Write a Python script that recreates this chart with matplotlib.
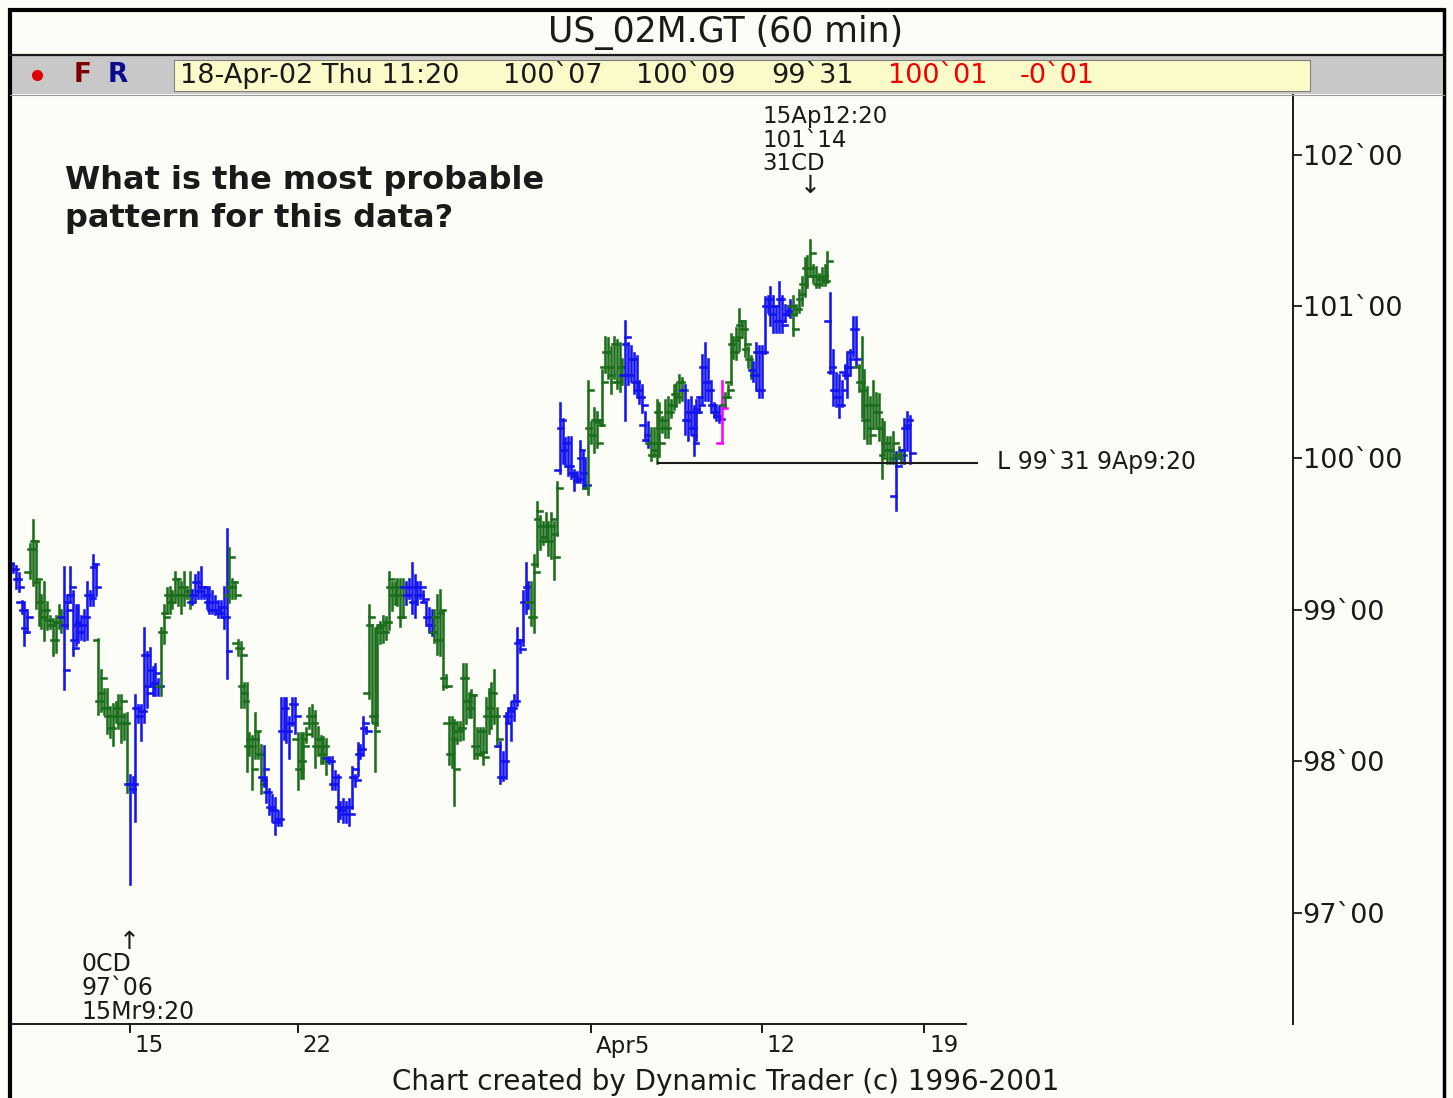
import matplotlib
matplotlib.use("Agg")
import matplotlib.pyplot as plt
import numpy as np
from matplotlib.collections import LineCollection
from matplotlib.lines import Line2D
from matplotlib.patches import Rectangle

# ---------------- data ----------------
TITLE = "US_02M.GT (60 min)"
STATUS_BLACK = ["18-Apr-02 Thu 11:20", "100`07", "100`09", "99`31"]
STATUS_RED = ["100`01", "-0`01"]
QUESTION = ["What is the most probable", "pattern for this data?"]
HIGH_NOTE = ["15Ap12:20", "101`14", "31CD"]
LOW_NOTE = ["0CD", "97`06", "15Mr9:20"]
LOW_LINE_LABEL = "L 99`31 9Ap9:20"
LOW_LINE_PRICE = 99 + 31 / 32
CREDIT = "Chart created by Dynamic Trader (c) 1996-2001"

PRICE_TICKS = [97, 98, 99, 100, 101, 102]
PRICE_LABELS = ["97`00", "98`00", "99`00", "100`00", "101`00", "102`00"]
DATE_LABELS = ["15", "22", "Apr5", "12", "19"]
DATE_BAR_INDEX = [41, 100, 203, 263, 320]

HIGH_BAR = 280      # 15Ap12:20 high
LOW_BAR = 41        # 15Mr9:20 low
LOW_LINE_BAR = 226  # 9Ap9:20 low

HIGH = [
    # Mar 12-15
    99.31, 99.29, 99.24, 99.06, 99.05, 99.00, 99.43, 99.59, 99.45, 99.18, 99.10,
    99.18, 99.05, 98.96, 98.94, 98.96, 99.03, 99.00, 99.28, 99.10, 99.28, 99.12,
    99.03, 99.03, 98.96, 99.00, 99.18, 99.12, 99.36, 99.30, 98.81, 98.60, 98.48,
    98.48, 98.36, 98.38, 98.39, 98.44, 98.44, 98.31, 98.32, 97.91, 97.90,
    98.44, 98.37, 98.37, 98.88, 98.72, 98.75, 98.62, 98.64, 98.54, 98.88,
    # Mar 15-22
    99.03, 99.14, 99.15, 99.12, 99.25, 99.20, 99.18, 99.25, 99.15, 99.25,
    99.13, 99.23, 99.25, 99.28, 99.15, 99.15, 99.15, 99.12, 99.09, 99.06,
    99.06, 99.15, 99.53, 99.41, 99.20, 99.18, 98.80, 98.79, 98.52, 98.52,
    98.19, 98.17, 98.32, 98.19, 98.11, 98.10, 97.90, 97.82, 97.78, 97.76,
    97.67, 98.42, 98.42, 98.42, 98.29, 98.42, 98.42, 98.19, 98.19, 98.19,
    98.22, 98.35, 98.37,
    # Mar 22-28
    98.33, 98.23, 98.17, 98.16, 98.15, 98.03, 98.03, 97.94, 97.91, 97.73,
    97.75, 97.73, 97.75, 97.96, 97.91, 98.12, 98.11, 98.29, 98.23, 99.03,
    98.90, 98.88, 98.90, 98.92, 98.96, 98.95, 99.25, 99.18, 99.18, 99.20,
    99.20, 99.20, 99.18, 99.20, 99.31, 99.23, 99.18, 99.18, 99.12, 99.05,
    99.01, 99.00, 99.00, 99.10, 99.13, 98.99, 98.57, 98.29, 98.29, 98.27,
    98.26, 98.26, 98.64, 98.64, 98.45, 98.47,
    # Mar 28 - Apr 5
    98.44, 98.22, 98.22, 98.22, 98.42, 98.48, 98.52, 98.60, 98.35, 98.13, 98.06,
    98.32, 98.35, 98.39, 98.44, 98.88, 98.79, 99.12, 99.31, 99.18, 99.18,
    99.36, 99.71, 99.62, 99.58, 99.64, 99.58, 99.64, 99.58, 99.84, 100.36, 100.26,
    100.13, 100.14, 100.14, 99.92, 99.91, 100.11, 100.04, 100.00, 100.51, 100.24,
    100.33, 100.30, 100.25, 100.58, 100.80, 100.79, 100.73,
    # Apr 5-12
    100.80, 100.78, 100.76, 100.65, 100.90, 100.76, 100.74, 100.69, 100.67,
    100.51, 100.48, 100.30, 100.24, 100.20, 100.20, 100.38, 100.36,
    100.27, 100.38, 100.40, 100.38, 100.48, 100.49, 100.55, 100.53, 100.48, 100.38,
    100.40, 100.34, 100.38, 100.40, 100.68, 100.76, 100.65, 100.51, 100.36, 100.35,
    100.34, 100.51, 100.43, 100.48, 100.82, 100.80, 100.86, 100.98,
    100.90, 100.90, 100.73, 100.67, 100.63, 100.76,
    # Apr 12-18
    100.74, 100.74, 101.06, 101.07, 101.13, 101.07, 101.00, 101.16, 101.07, 101.01,
    101.00, 101.04, 101.07, 101.01, 101.11, 101.19, 101.32, 101.33, 101.44, 101.27,
    101.26, 101.21, 101.25, 101.27, 101.36, 101.09, 100.71, 100.56, 100.55,
    100.51, 100.61, 100.70, 100.71, 100.93, 100.93, 100.61, 100.80, 100.58,
    100.47, 100.40, 100.51, 100.43, 100.42, 100.26, 100.24, 100.14, 100.14,
    100.17, 100.04, 100.07, 100.05, 100.26, 100.30, 100.28,
]

LOW = [
    99.25, 99.14, 99.12, 98.98, 98.77, 98.85, 99.21, 99.16, 99.01, 98.90, 98.88,
    98.80, 98.87, 98.88, 98.70, 98.72, 98.88, 98.85, 98.48, 98.88, 99.05, 98.70,
    98.77, 98.79, 98.81, 98.80, 98.81, 99.03, 99.03, 99.10, 98.31, 98.33, 98.31,
    98.19, 98.16, 98.11, 98.26, 98.22, 98.13, 98.15, 97.80, 97.19, 97.80,
    97.61, 98.26, 98.14, 98.26, 98.36, 98.50, 98.44, 98.44, 98.44, 98.44,
    98.78, 98.98, 98.98, 99.01, 99.05, 99.03, 98.98, 99.03, 99.08, 99.01,
    99.04, 99.05, 99.08, 99.08, 99.08, 99.01, 98.98, 98.98, 98.97, 98.95,
    98.95, 98.88, 98.55, 99.05, 99.08, 99.08, 98.70, 98.36, 98.36, 97.94,
    98.04, 97.82, 98.02, 98.02, 97.79, 97.84, 97.73, 97.65, 97.61, 97.52,
    97.58, 97.58, 98.15, 98.13, 98.02, 98.24, 98.19, 97.82, 97.89, 97.89,
    98.13, 98.22, 98.17,
    97.96, 98.04, 97.99, 97.99, 97.92, 97.99, 97.82, 97.82, 97.61, 97.63,
    97.60, 97.60, 97.58, 97.69, 97.84, 97.91, 98.02, 98.04, 98.19, 98.42,
    98.26, 97.94, 98.24, 98.78, 98.79, 98.81, 98.87, 99.00, 99.04, 99.03,
    98.89, 98.95, 99.04, 99.08, 98.98, 98.95, 99.04, 99.08, 99.05, 98.90,
    98.85, 98.83, 98.79, 98.71, 98.70, 98.48, 98.49, 97.98, 97.96, 97.71,
    98.12, 98.14, 98.15, 98.25, 98.29, 98.29,
    98.02, 98.02, 98.04, 97.98, 98.06, 98.19, 98.22, 98.25, 98.10, 97.86, 97.88,
    97.89, 98.26, 98.14, 98.27, 98.37, 98.72, 98.77, 98.98, 99.01, 98.90,
    98.85, 99.29, 99.40, 99.43, 99.45, 99.36, 99.34, 99.20, 99.49, 99.90, 99.97,
    99.95, 99.89, 99.87, 99.79, 99.84, 99.84, 99.80, 99.80, 99.76, 100.10,
    100.04, 100.07, 100.22, 100.22, 100.57, 100.53, 100.43,
    100.53, 100.46, 100.44, 100.49, 100.25, 100.49, 100.51, 100.43, 100.40,
    100.36, 100.30, 100.12, 100.07, 99.99, 100.01, 99.97, 100.01,
    100.17, 100.14, 100.14, 100.27, 100.32, 100.34, 100.37, 100.38, 100.16, 100.12,
    100.16, 100.02, 100.12, 100.30, 100.36, 100.38, 100.38, 100.30, 100.27, 100.25,
    100.24, 100.10, 100.34, 100.40, 100.49, 100.66, 100.65, 100.71,
    100.80, 100.67, 100.60, 100.53, 100.51, 100.45,
    100.40, 100.40, 100.69, 100.96, 100.88, 100.83, 100.83, 100.83, 100.83, 100.90,
    100.94, 100.93, 100.81, 100.94, 100.96, 101.01, 101.07, 101.13, 101.21, 101.16,
    101.13, 101.13, 101.14, 101.14, 101.16, 100.56, 100.35, 100.34, 100.27,
    100.34, 100.53, 100.40, 100.55, 100.67, 100.61, 100.44, 100.27, 100.13,
    100.10, 100.10, 100.20, 100.20, 100.12, 99.87, 100.02, 99.97, 99.97,
    99.97, 99.66, 100.00, 99.97, 99.97, 100.05, 99.97,
]

OPEN = [
    99.30, 99.27, 99.20, 99.05, 99.00, 98.88, 99.25, 99.40, 99.45, 99.18, 99.05,
    98.95, 99.00, 98.93, 98.90, 98.80, 98.92, 98.95, 98.95, 98.90, 99.05, 99.10,
    98.80, 98.90, 98.85, 98.90, 98.95, 99.10, 99.10, 99.28, 98.80, 98.40, 98.45,
    98.35, 98.30, 98.22, 98.30, 98.35, 98.30, 98.30, 98.25, 97.85, 97.85,
    97.85, 98.35, 98.30, 98.33, 98.70, 98.50, 98.60, 98.52, 98.50, 98.50,
    98.85, 98.95, 99.10, 99.05, 99.10, 99.20, 99.10, 99.15, 99.10, 99.12,
    99.05, 99.10, 99.18, 99.12, 99.15, 99.10, 99.05, 99.00, 99.05, 99.00,
    98.98, 99.02, 98.95, 99.10, 99.15, 99.15, 98.78, 98.75, 98.50, 98.45,
    98.10, 98.15, 98.10, 98.15, 98.05, 97.90, 97.88, 97.80, 97.70, 97.68,
    97.60, 97.62, 98.20, 98.35, 98.20, 98.25, 98.38, 98.15, 97.95, 98.00,
    98.15, 98.25, 98.30,
    98.30, 98.10, 98.15, 98.05, 98.10, 98.02, 98.00, 97.85, 97.90, 97.70,
    97.68, 97.65, 97.70, 97.70, 97.90, 97.95, 98.05, 98.08, 98.22, 98.45,
    98.90, 98.30, 98.25, 98.85, 98.90, 98.85, 98.92, 99.15, 99.10, 99.15,
    99.10, 98.95, 99.15, 99.10, 99.15, 99.05, 99.15, 99.10, 99.10, 99.05,
    98.95, 98.90, 98.85, 98.95, 98.80, 98.98, 98.55, 98.25, 98.05, 98.25,
    98.15, 98.20, 98.22, 98.55, 98.40, 98.35,
    98.44, 98.10, 98.05, 98.20, 98.05, 98.30, 98.35, 98.45, 98.30, 98.10, 97.90,
    98.00, 98.30, 98.30, 98.35, 98.40, 98.78, 98.80, 99.05, 99.15, 99.05,
    98.95, 99.30, 99.60, 99.55, 99.48, 99.55, 99.45, 99.55, 99.50, 99.92, 100.20,
    100.05, 100.10, 99.95, 99.90, 99.88, 99.86, 100.00, 99.90, 99.80, 100.20,
    100.15, 100.25, 100.24, 100.25, 100.60, 100.70, 100.60,
    100.55, 100.75, 100.50, 100.60, 100.55, 100.75, 100.55, 100.65, 100.50,
    100.45, 100.40, 100.22, 100.12, 100.10, 100.02, 100.05, 100.30,
    100.20, 100.25, 100.20, 100.30, 100.35, 100.42, 100.40, 100.50, 100.45, 100.25,
    100.30, 100.20, 100.15, 100.32, 100.40, 100.60, 100.50, 100.45, 100.35, 100.30,
    100.28, 100.10, 100.35, 100.40, 100.50, 100.75, 100.70, 100.78,
    100.88, 100.85, 100.72, 100.65, 100.58, 100.55,
    100.70, 100.45, 100.70, 101.00, 101.05, 100.95, 101.00, 100.90, 101.05, 100.90,
    100.95, 100.97, 101.00, 100.95, 100.98, 101.05, 101.15, 101.25, 101.25, 101.25,
    101.20, 101.15, 101.18, 101.20, 101.17, 100.90, 100.57, 100.45, 100.40,
    100.35, 100.57, 100.55, 100.60, 100.70, 100.85, 100.60, 100.50, 100.45,
    100.25, 100.35, 100.20, 100.35, 100.30, 100.20, 100.02, 100.10, 100.05,
    100.05, 99.75, 100.02, 100.00, 100.05, 100.20, 100.22,
]

CLOSE = [
    99.27, 99.20, 99.15, 99.00, 98.85, 98.95, 99.40, 99.45, 99.20, 99.05, 98.95,
    99.00, 98.93, 98.90, 98.80, 98.92, 98.95, 98.90, 98.60, 99.00, 99.15, 98.75,
    98.92, 98.85, 98.90, 98.95, 99.10, 99.08, 99.30, 99.15, 98.40, 98.55, 98.35,
    98.30, 98.22, 98.30, 98.35, 98.25, 98.40, 98.25, 97.85, 97.82, 97.85,
    98.35, 98.30, 98.33, 98.70, 98.45, 98.60, 98.52, 98.58, 98.50, 98.85,
    98.95, 99.10, 99.05, 99.10, 99.20, 99.10, 99.15, 99.10, 99.12, 99.05,
    99.10, 99.18, 99.12, 99.15, 99.10, 99.05, 99.00, 99.05, 99.00, 98.98,
    99.02, 98.95, 98.73, 99.35, 99.18, 99.10, 98.75, 98.70, 98.40, 98.10,
    98.15, 97.95, 98.20, 98.05, 97.85, 97.95, 97.80, 97.70, 97.68, 97.60,
    97.62, 98.20, 98.35, 98.20, 98.25, 98.38, 98.30, 97.95, 98.00, 98.10,
    98.18, 98.30, 98.25,
    98.10, 98.15, 98.05, 98.10, 98.00, 98.00, 97.85, 97.90, 97.70, 97.68,
    97.65, 97.70, 97.65, 97.90, 97.88, 98.05, 98.08, 98.25, 98.20, 98.95,
    98.30, 98.20, 98.88, 98.90, 98.85, 98.92, 99.20, 99.10, 99.15, 99.10,
    98.95, 99.15, 99.10, 99.15, 99.05, 99.15, 99.10, 99.15, 99.07, 98.95,
    98.90, 98.85, 98.95, 98.80, 99.00, 98.50, 98.50, 98.05, 98.25, 97.95,
    98.20, 98.22, 98.55, 98.40, 98.35, 98.44,
    98.10, 98.05, 98.20, 98.03, 98.30, 98.35, 98.45, 98.30, 98.15, 97.90, 98.00,
    98.25, 98.33, 98.35, 98.40, 98.80, 98.74, 99.05, 99.15, 99.05, 98.95,
    99.25, 99.65, 99.45, 99.48, 99.55, 99.45, 99.60, 99.35, 99.80, 100.25, 100.05,
    100.10, 99.95, 99.90, 99.85, 99.86, 100.05, 99.90, 99.82, 100.45, 100.15,
    100.25, 100.10, 100.22, 100.50, 100.70, 100.60, 100.50,
    100.75, 100.50, 100.60, 100.55, 100.80, 100.55, 100.65, 100.50, 100.45,
    100.40, 100.35, 100.15, 100.10, 100.02, 100.10, 100.30, 100.10,
    100.25, 100.20, 100.30, 100.35, 100.42, 100.40, 100.50, 100.45, 100.25, 100.30,
    100.20, 100.10, 100.30, 100.35, 100.60, 100.50, 100.45, 100.35, 100.30, 100.28,
    100.26, 100.33, 100.40, 100.45, 100.75, 100.70, 100.80, 100.90,
    100.85, 100.75, 100.65, 100.58, 100.55, 100.70,
    100.45, 100.70, 101.00, 101.05, 100.95, 101.00, 100.90, 101.05, 100.88, 100.95,
    100.97, 101.00, 100.85, 100.98, 101.08, 101.15, 101.25, 101.20, 101.35, 101.20,
    101.15, 101.18, 101.20, 101.17, 101.30, 100.60, 100.45, 100.40, 100.35,
    100.45, 100.55, 100.60, 100.65, 100.85, 100.65, 100.50, 100.45, 100.25,
    100.35, 100.15, 100.35, 100.30, 100.20, 100.00, 100.10, 100.05, 100.00,
    100.10, 99.95, 100.05, 100.02, 100.20, 100.25, 100.03,
]

# bar colour class, as runs of (class, number of bars)
BAR_CLASS_RUNS = [
    ("b", 6), ("g", 12), ("b", 12), ("g", 11), ("b", 11), ("g", 11),
    ("b", 13), ("g", 12), ("b", 12), ("g", 11), ("b", 14), ("g", 13),
    ("b", 10), ("g", 23), ("b", 11), ("g", 10), ("b", 10), ("g", 13),
    ("b", 9), ("g", 12), ("b", 13), ("m", 1), ("g", 10), ("b", 14),
    ("g", 13), ("b", 10), ("g", 13), ("b", 1), ("g", 2), ("b", 3),
]

# ---------------- layout ----------------
W, H = 1453, 1098
DPI = 100
BG = "#FDFDF7"
GREEN = "#1C6E1C"
BLUE = "#1414F0"
MAGENTA = "#FF00FF"
INK = "#1A1A1A"
CLASS_COLOR = {"g": GREEN, "b": BLUE, "m": MAGENTA}

fig = plt.figure(figsize=(W / DPI, H / DPI), dpi=DPI)
fig.patch.set_facecolor(BG)


def ftext(px, py, s, **kw):
    kw.setdefault("family", "DejaVu Sans")
    return fig.text(px / W, 1 - py / H, s, **kw)


def fline(xs, ys, **kw):
    fx = [x / W for x in xs]
    fy = [1 - y / H for y in ys]
    fig.add_artist(Line2D(fx, fy, transform=fig.transFigure, **kw))


def frect(x0, y0, x1, y1, **kw):
    fig.add_artist(Rectangle((x0 / W, 1 - y1 / H), (x1 - x0) / W, (y1 - y0) / H,
                             transform=fig.transFigure, **kw))


# plot area
AX_L, AX_R, AX_T, AX_B = 12, 1293, 95, 1024
FIRST_PX, LAST_PX = 13, 910
P0_Y, PX_PER_POINT = 458, 151.7

n = min(len(HIGH), len(LOW), len(OPEN), len(CLOSE))
step = (LAST_PX - FIRST_PX) / (n - 1)


def bar_px(i):
    return FIRST_PX + i * step


ax = fig.add_axes([AX_L / W, 1 - AX_B / H, (AX_R - AX_L) / W, (AX_B - AX_T) / H])
ax.set_facecolor(BG)
ax.set_xlim((AX_L - FIRST_PX) / step, (AX_R - FIRST_PX) / step)
ax.set_ylim(100 - (AX_B - P0_Y) / PX_PER_POINT, 100 + (P0_Y - AX_T) / PX_PER_POINT)

classes = []
for c, k in BAR_CLASS_RUNS:
    classes.extend([c] * k)
classes = (classes + ["b"] * n)[:n]

hi = np.array(HIGH[:n])
lo = np.array(LOW[:n])
op = np.clip(np.array(OPEN[:n]), lo, hi)
cl = np.clip(np.array(CLOSE[:n]), lo, hi)

tw = 4.8 / step
segs, cols = [], []
for i in range(n):
    c = CLASS_COLOR[classes[i]]
    segs.append([(i, lo[i]), (i, hi[i])])
    segs.append([(i - tw, op[i]), (i, op[i])])
    segs.append([(i, cl[i]), (i + tw, cl[i])])
    cols += [c, c, c]
ax.add_collection(LineCollection(segs, colors=cols, linewidths=1.85, capstyle="projecting"))

# low line
ax.plot([LOW_LINE_BAR, (978 - FIRST_PX) / step], [LOW_LINE_PRICE] * 2, color=INK, lw=1.5,
        solid_capstyle="butt")

# spines / ticks
for s in ["left", "top", "bottom"]:
    ax.spines[s].set_visible(False)
ax.spines["right"].set_color(INK)
ax.spines["right"].set_linewidth(1.4)
ax.yaxis.tick_right()
ax.set_yticks(PRICE_TICKS)
ax.set_yticklabels(PRICE_LABELS, family="DejaVu Sans", fontsize=19.5, color=INK)
ax.tick_params(axis="y", direction="out", length=6.5, width=1.3, pad=0.5, colors=INK)
ax.set_xticks([])

# bottom axis line, ticks and labels
fline([12, 966], [1024, 1024], color=INK, lw=1.4)
for idx, lab in zip(DATE_BAR_INDEX, DATE_LABELS):
    px = bar_px(idx)
    fline([px, px], [1024, 1032], color=INK, lw=1.4)
    ftext(px + 5, 1046, lab, ha="left", va="center", fontsize=16.5, color=INK)

# ---------------- frame, title & status bar ----------------
frect(12, 56, 1442, 94, facecolor="#C8C8C8", edgecolor="none")
frect(174, 60, 1310, 91, facecolor="#FBFBC9", edgecolor="#808080", lw=0.8)
fline([8, 1446], [9.5, 9.5], color="black", lw=3.0, solid_capstyle="butt")
fline([10, 10], [8, 1098], color="black", lw=3.0, solid_capstyle="butt")
fline([1444, 1444], [8, 1098], color="black", lw=2.5, solid_capstyle="butt")
fline([10, 1444], [54.5, 54.5], color=INK, lw=1.6)
fline([10, 1444], [94.5, 94.5], color="#9A9A9A", lw=0.8)

ftext(726, 32, TITLE, ha="center", va="center", fontsize=25, color=INK)

fig.add_artist(Line2D([37 / W], [1 - 75 / H], transform=fig.transFigure, marker="o",
                      markersize=7, color="#E00000", linestyle="none"))
ftext(83, 75, "F", ha="center", va="center", fontsize=19, weight="bold", color="#7A0000")
ftext(118, 75, "R", ha="center", va="center", fontsize=19, weight="bold", color="#0A0A90")

status_x_black = [180, 503, 636, 771]
status_x_red = [888, 1020]
for px, s in zip(status_x_black, STATUS_BLACK):
    ftext(px, 76, s, ha="left", va="center", fontsize=19.5, color=INK)
for px, s in zip(status_x_red, STATUS_RED):
    ftext(px, 76, s, ha="left", va="center", fontsize=19.5, color="#F00000")

# ---------------- annotations ----------------
ftext(65, 180, QUESTION[0], ha="left", va="center", fontsize=23, weight="bold", color=INK)
ftext(65, 218, QUESTION[1], ha="left", va="center", fontsize=23, weight="bold", color=INK)

hx = bar_px(HIGH_BAR)
for k, s in enumerate(HIGH_NOTE):
    ftext(hx - 48, 116 + 24 * k, s, ha="left", va="center", fontsize=16.5, color=INK)
ftext(hx, 186, "\u2193", ha="center", va="center", fontsize=18, color=INK)

lx = bar_px(LOW_BAR)
ftext(lx, 942, "\u2191", ha="center", va="center", fontsize=18, color=INK)
for k, s in enumerate(LOW_NOTE):
    ftext(lx - 48, 964 + 24 * k, s, ha="left", va="center", fontsize=17, color=INK)

ftext(997, 462, LOW_LINE_LABEL, ha="left", va="center", fontsize=17, color=INK)

ftext(726, 1082, CREDIT, ha="center", va="center", fontsize=20, color=INK)

fig.savefig("out.png", dpi=DPI, facecolor=BG)
